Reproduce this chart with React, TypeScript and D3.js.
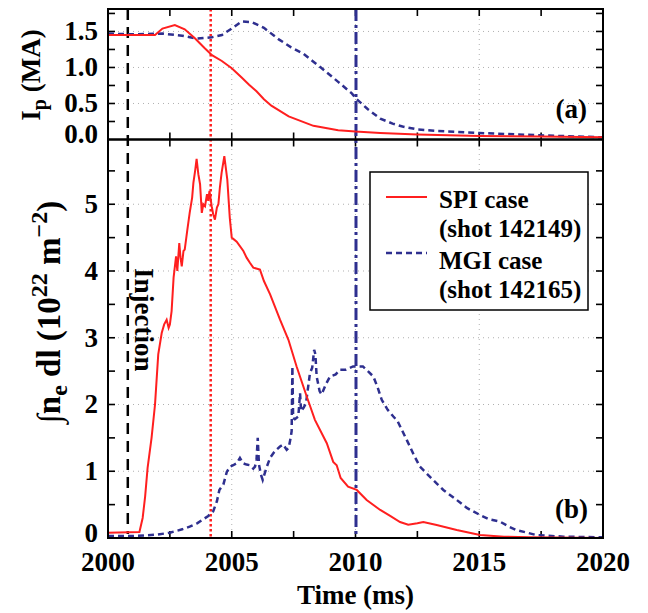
import React from "react";
import * as d3 from "d3";

// ---------- data ----------
const xTicks = [2000, 2005, 2010, 2015, 2020];
const ipTicks = [0.0, 0.5, 1.0, 1.5];
const neTicks = [0, 1, 2, 3, 4, 5];

const spiIp: [number, number][] = [
  [2000, 1.45], [2001, 1.45], [2001.9, 1.45], [2002.2, 1.54], [2002.7, 1.59], [2003.1, 1.53],
  [2003.5, 1.41], [2003.9, 1.27], [2004.2, 1.17], [2004.6, 1.09], [2005, 0.99], [2005.4, 0.86],
  [2005.7, 0.76], [2006, 0.67], [2006.3, 0.56], [2006.6, 0.47], [2007.3, 0.32], [2008.3, 0.19],
  [2009.3, 0.13], [2010, 0.11], [2011, 0.09], [2012.5, 0.07], [2015, 0.05], [2017.5, 0.04], [2020, 0.03],
];

const mgiIp: [number, number][] = [
  [2000, 1.47], [2001, 1.46], [2002.2, 1.47], [2003, 1.44], [2003.6, 1.4], [2004.2, 1.42],
  [2004.6, 1.45], [2005, 1.54], [2005.4, 1.64], [2005.8, 1.63], [2006.3, 1.55], [2006.9, 1.39],
  [2007.4, 1.28], [2007.9, 1.19], [2008.3, 1.08], [2008.6, 1.0], [2009.3, 0.8], [2009.85, 0.64],
  [2010.05, 0.56], [2010.5, 0.42], [2011, 0.29], [2011.5, 0.22], [2011.9, 0.18], [2012.5, 0.14],
  [2013.3, 0.12], [2015, 0.09], [2017.3, 0.06], [2020, 0.03],
];

const spiNe: [number, number][] = [
  [2000, 0.08], [2001.27, 0.09], [2001.4, 0.3], [2001.5, 0.62], [2001.6, 1.05], [2001.76, 1.5],
  [2001.9, 2.0], [2002.03, 2.75], [2002.17, 3.07], [2002.27, 3.2], [2002.37, 3.27], [2002.45, 3.15],
  [2002.5, 3.2], [2002.57, 3.4], [2002.65, 3.9], [2002.75, 4.22], [2002.8, 4.0], [2002.88, 4.42],
  [2002.93, 4.2], [2002.98, 4.07], [2003.05, 4.3], [2003.1, 4.32], [2003.2, 4.6], [2003.3, 4.87],
  [2003.4, 5.1], [2003.45, 5.32], [2003.52, 5.5], [2003.58, 5.68], [2003.65, 5.45], [2003.72, 5.3],
  [2003.79, 4.87], [2003.85, 5.0], [2003.92, 4.97], [2004.0, 5.15], [2004.05, 5.05], [2004.1, 5.2],
  [2004.19, 4.97], [2004.25, 4.85], [2004.32, 4.77], [2004.4, 4.95], [2004.46, 5.0], [2004.52, 5.25],
  [2004.59, 5.47], [2004.7, 5.72], [2004.82, 5.37], [2004.92, 4.8], [2005.0, 4.5], [2005.2, 4.44],
  [2005.47, 4.3], [2005.6, 4.2], [2005.74, 4.12], [2005.87, 4.05], [2006.14, 4.02], [2006.3, 3.85],
  [2006.55, 3.65], [2006.95, 3.27], [2007.29, 2.97], [2007.62, 2.57], [2008.03, 2.12], [2008.36, 1.77],
  [2008.84, 1.42], [2009.1, 1.14], [2009.24, 1.09], [2009.4, 0.9], [2009.7, 0.77], [2010.05, 0.72],
  [2010.45, 0.57], [2011.0, 0.42], [2011.4, 0.33], [2011.8, 0.24], [2012.13, 0.2], [2012.5, 0.22],
  [2012.74, 0.24], [2013.28, 0.195], [2014.09, 0.12], [2015.03, 0.045], [2016, 0.02], [2017, 0.01],
  [2020, 0.0],
];

const mgiNe: [number, number][] = [
  [2000, 0.03], [2001, 0.03], [2002, 0.05], [2002.5, 0.08], [2003, 0.13], [2003.3, 0.17],
  [2003.6, 0.22], [2003.85, 0.28], [2004.05, 0.33], [2004.25, 0.4], [2004.4, 0.55], [2004.5, 0.72],
  [2004.66, 0.8], [2004.8, 0.99], [2004.93, 1.07], [2005.06, 1.09], [2005.2, 1.12], [2005.33, 1.2],
  [2005.45, 1.12], [2005.6, 1.1], [2005.74, 1.09], [2005.87, 1.04], [2005.94, 1.07], [2006.0, 1.17],
  [2006.05, 1.5], [2006.1, 1.1], [2006.18, 0.95], [2006.25, 0.87], [2006.4, 1.05], [2006.55, 1.2],
  [2006.7, 1.28], [2006.8, 1.32], [2006.95, 1.37], [2007.08, 1.4], [2007.22, 1.32], [2007.3, 1.35],
  [2007.38, 1.5], [2007.42, 1.6], [2007.45, 2.57], [2007.48, 1.8], [2007.55, 1.78], [2007.69, 1.82],
  [2007.76, 2.17], [2007.8, 1.9], [2007.9, 1.95], [2008.0, 2.02], [2008.1, 2.3], [2008.16, 2.47],
  [2008.25, 2.55], [2008.33, 2.82], [2008.38, 2.75], [2008.43, 2.42], [2008.55, 2.2], [2008.63, 2.15],
  [2008.8, 2.3], [2008.97, 2.42], [2009.2, 2.45], [2009.37, 2.52], [2009.6, 2.52], [2009.9, 2.57],
  [2010.3, 2.57], [2010.5, 2.5], [2010.72, 2.42], [2010.9, 2.25], [2011.06, 2.07], [2011.3, 1.92],
  [2011.53, 1.82], [2011.7, 1.75], [2012.07, 1.47], [2012.35, 1.25], [2012.6, 1.07], [2013.0, 0.92],
  [2013.55, 0.72], [2014.09, 0.57], [2014.5, 0.45], [2015.03, 0.345], [2015.4, 0.28], [2015.84, 0.245],
  [2016.2, 0.17], [2016.5, 0.12], [2017.3, 0.045], [2018.4, 0.02], [2020, 0.01],
];

const injectionT = 2000.8;
const spiMarkT = 2004.15;
const mgiMarkT = 2010.02;

// ---------- layout (page coordinates; svg sits at the 8px body margin) ----------
const W = 648, H = 613;
const OFF = 8;
const L = 108, R = 603;
const T1 = 3, B1 = 139.5, B2 = 538;
const TF = 9; // visible top frame edge (page y < 8 lies outside the svg)

const RED = "#ff1f1f";
const BLUE = "#2e2f8f";
const SERIF = "'Liberation Serif'";

function T(props: any) {
  const { size, children, ...rest } = props;
  return (
    <text {...rest} fill="#000" fontSize={size} fontWeight="bold" fontFamily="Liberation Serif" style={{ fontFamily: SERIF }}>
      {children}
    </text>
  );
}

export default function App() {
  const x = d3.scaleLinear().domain([2000, 2020]).range([L, R]);
  const yTop = d3.scaleLinear().domain([0, 1.895]).range([B1, T1]);
  const yBot = d3.scaleLinear().domain([0, 5.97]).range([B2, B1]);

  const lineTop = d3.line<[number, number]>().x((d) => x(d[0])).y((d) => yTop(d[1]));
  const lineBot = d3.line<[number, number]>().x((d) => x(d[0])).y((d) => yBot(d[1]));

  const minorX = d3.range(2000, 2020.01, 2.5);
  const topMinor = d3.range(0.25, 1.8, 0.25);
  const botMinor = d3.range(0.5, 5.9, 0.5);
  const tk = 7;

  return (
    <svg width={W - OFF} height={H - OFF}>
      <g transform={`translate(${-OFF},${-OFF})`}>
        <rect x={OFF} y={OFF} width={W} height={H} fill="#fff" />
        {/* grid */}
        <g stroke="#b0b0b0" strokeWidth={1} strokeDasharray="1,4">
          {[2005, 2010, 2015].map((t) => (
            <line key={"gx" + t} x1={x(t)} x2={x(t)} y1={TF} y2={B2} />
          ))}
          {[0.5, 1.0, 1.5].map((v) => (
            <line key={"gt" + v} x1={L} x2={R} y1={yTop(v)} y2={yTop(v)} />
          ))}
          {[1, 2, 3, 4, 5].map((v) => (
            <line key={"gb" + v} x1={L} x2={R} y1={yBot(v)} y2={yBot(v)} />
          ))}
        </g>

        {/* ticks */}
        <g stroke="#000" strokeWidth={1.6}>
          {minorX.map((t) => (
            <g key={"tx" + t}>
              <line x1={x(t)} x2={x(t)} y1={TF} y2={TF + tk} />
              <line x1={x(t)} x2={x(t)} y1={B1 - tk} y2={B1 + tk} />
              <line x1={x(t)} x2={x(t)} y1={B2} y2={B2 - tk} />
            </g>
          ))}
          {topMinor.map((v) => (
            <g key={"ty" + v}>
              <line x1={L} x2={L + tk} y1={yTop(v)} y2={yTop(v)} />
              <line x1={R} x2={R - tk} y1={yTop(v)} y2={yTop(v)} />
            </g>
          ))}
          {botMinor.map((v) => (
            <g key={"by" + v}>
              <line x1={L} x2={L + tk} y1={yBot(v)} y2={yBot(v)} />
              <line x1={R} x2={R - tk} y1={yBot(v)} y2={yBot(v)} />
            </g>
          ))}
        </g>

        {/* vertical markers */}
        <line x1={x(injectionT)} x2={x(injectionT)} y1={TF} y2={B2 - 4} stroke="#000" strokeWidth={2.5} strokeDasharray="11,7" />
        <line x1={x(spiMarkT)} x2={x(spiMarkT)} y1={TF} y2={B2 - 1} stroke={RED} strokeWidth={2.5} strokeDasharray="2.5,2.5" />
        <line x1={x(mgiMarkT)} x2={x(mgiMarkT)} y1={TF} y2={B2 - 1} stroke={BLUE} strokeWidth={3} strokeDasharray="12,4,3,4" />

        {/* data */}
        <path d={lineTop(mgiIp) || ""} fill="none" stroke={BLUE} strokeWidth={2.5} strokeDasharray="6,4" />
        <path d={lineTop(spiIp) || ""} fill="none" stroke={RED} strokeWidth={2} />
        <path d={lineBot(mgiNe) || ""} fill="none" stroke={BLUE} strokeWidth={2.5} strokeDasharray="6,4" />
        <path d={lineBot(spiNe) || ""} fill="none" stroke={RED} strokeWidth={2} />

        {/* frames */}
        <g fill="none" stroke="#000" strokeWidth={2}>
          <rect x={L} y={TF} width={R - L} height={B1 - TF} />
          <rect x={L} y={B1} width={R - L} height={B2 - B1} />
        </g>

        {/* tick labels */}
        {ipTicks.map((v) => (
          <T key={"lt" + v} size={27} x={98} y={yTop(v) + (v === 0 ? 3 : 9)} textAnchor="end">{v.toFixed(1)}</T>
        ))}
        {neTicks.map((v) => (
          <T key={"lb" + v} size={27} x={98} y={yBot(v) + (v === 0 ? 4 : 9)} textAnchor="end">{String(v)}</T>
        ))}
        {xTicks.map((t) => (
          <T key={"lx" + t} size={27} x={x(t)} y={571} textAnchor="middle">{String(t)}</T>
        ))}
        <T size={27} x={(L + R) / 2} y={604} textAnchor="middle">Time (ms)</T>
        <T size={27} x={587} y={118} textAnchor="end">(a)</T>
        <T size={27} x={588} y={518} textAnchor="end">(b)</T>

        {/* y labels */}
        <T size={27} transform={`translate(40,75) rotate(-90)`} textAnchor="middle">
          I<tspan fontSize={20} dy={6}>p</tspan><tspan dy={-6}> (MA)</tspan>
        </T>
        <T size={33} transform={`translate(60,312) rotate(-90)`} textAnchor="middle">
          ∫n<tspan fontSize={24} dy={7}>e</tspan><tspan dy={-7}> dl (10</tspan>
          <tspan fontSize={24} dy={-13}>22</tspan><tspan dy={13}> m</tspan>
          <tspan fontSize={24} dy={-13}>−2</tspan><tspan dy={13}>)</tspan>
        </T>

        {/* Injection label */}
        <T size={27} transform={`translate(135,268) rotate(90)`}>Injection</T>

        {/* legend */}
        <rect x={370} y={172} width={218} height={138} fill="#fff" stroke="#000" strokeWidth={1.5} />
        <line x1={386} x2={427} y1={197} y2={197} stroke={RED} strokeWidth={2} />
        <line x1={386} x2={427} y1={253} y2={253} stroke={BLUE} strokeWidth={2.5} strokeDasharray="6,4" />
        <T size={25} x={439} y={208}>SPI case</T>
        <T size={25} x={439} y={237}>(shot 142149)</T>
        <T size={25} x={439} y={269}>MGI case</T>
        <T size={25} x={439} y={298}>(shot 142165)</T>
      </g>
    </svg>
  );
}
